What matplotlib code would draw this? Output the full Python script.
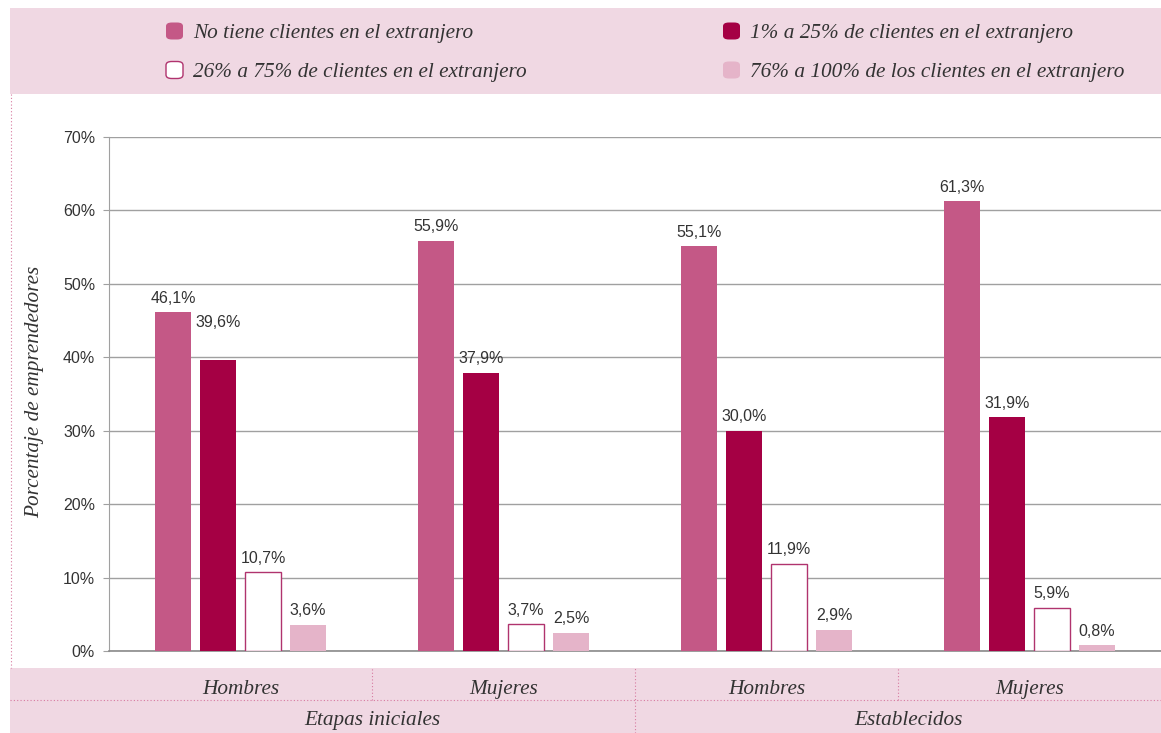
import matplotlib
matplotlib.use("Agg")
import matplotlib.pyplot as plt
from matplotlib.patches import Rectangle, FancyBboxPatch
from matplotlib.lines import Line2D
import matplotlib.transforms as mtransforms

# ---------------- data ----------------
groups = ["Hombres", "Mujeres", "Hombres", "Mujeres"]
stages = ["Etapas iniciales", "Establecidos"]
series_names = [
    "No tiene clientes en el extranjero",
    "1% a 25% de clientes en el extranjero",
    "26% a 75% de clientes en el extranjero",
    "76% a 100% de los clientes en el extranjero",
]
no_clientes = [46.1, 55.9, 55.1, 61.3]
de1_a25 = [39.6, 37.9, 30.0, 31.9]
de26_a75 = [10.7, 3.7, 11.9, 5.9]
de76_a100 = [3.6, 2.5, 2.9, 0.8]
y_ticks = [0, 10, 20, 30, 40, 50, 60, 70]
y_label = "Porcentaje de emprendedores"

# ---------------- style ----------------
W, H = 1161, 733
face = ["#c45886", "#a50044", "#ffffff", "#e5b4c9"]
edge = ["#c45886", "#a50044", "#b0336e", "#e5b4c9"]
band = "#f0d8e3"
dot = "#d77aa0"
txt = "#333333"
serif = ["Liberation Serif", "DejaVu Serif"]
sans = ["Liberation Sans", "DejaVu Sans"]
serif_size = 15.3

fig = plt.figure(figsize=(W / 100, H / 100), dpi=100)

def fx(px):
    return px / W

def fy(py):
    return 1 - py / H

ax = fig.add_axes([fx(109), fy(651), fx(1161) - fx(109), fy(137) - fy(651)])

values = [no_clientes, de1_a25, de26_a75, de76_a100]
n = len(groups)
x = list(range(n))
width = 0.138
pitch = 0.171
offsets = [(-1.5 + i) * pitch for i in range(4)]

# per-label extra lift (points) for the label that sits above its neighbour
extra_lift = {(1, 0): 17}

for si, vals in enumerate(values):
    xs = [xi + offsets[si] for xi in x]
    lw = 1.0 if si == 2 else 0
    ax.bar(xs, vals, width=width, color=face[si], edgecolor=edge[si],
           linewidth=lw, zorder=3)
    for gi, (xx, v) in enumerate(zip(xs, vals)):
        lift = 4.5 + extra_lift.get((si, gi), 0)
        ax.annotate(f"{v:.1f}%".replace(".", ","), (xx, v),
                    xytext=(0, lift), textcoords="offset points",
                    ha="center", va="bottom", fontsize=11.5, color=txt,
                    family=sans, zorder=4)

ax.set_xlim(-0.5, n - 0.5)
ax.set_ylim(0, 70)
ax.set_yticks(y_ticks)
ax.set_yticklabels([f"{t}%" for t in y_ticks], fontsize=11.5, color=txt,
                   family=sans)
ax.set_xticks([])
ax.yaxis.grid(True, color="#a0a0a0", linewidth=1.0, zorder=0)
ax.set_axisbelow(True)
for s in ["top", "right"]:
    ax.spines[s].set_visible(False)
ax.spines["left"].set_color("#a0a0a0")
ax.spines["bottom"].set_color("#8a8a8a")
ax.spines["bottom"].set_linewidth(1.2)
ax.tick_params(axis="y", length=4, color="#a0a0a0", pad=6)

fig.text(fx(35), fy(392), y_label, rotation=90, ha="center", va="center",
         fontsize=serif_size, style="italic", family=serif, color=txt)

# ---------------- legend band ----------------
fig.add_artist(Rectangle((fx(10), fy(94)), fx(1161) - fx(10), fy(8) - fy(94),
                         transform=fig.transFigure, facecolor=band,
                         edgecolor="none", zorder=0))
leg_pos = [(166, 31), (723, 31), (166, 70), (723, 70)]
for si, (px, py) in enumerate(leg_pos):
    sz = 17
    fig.add_artist(FancyBboxPatch((fx(px), fy(py + sz / 2)), fx(sz), fy(0) - fy(sz),
                                  boxstyle="round,pad=0,rounding_size=0.005",
                                  transform=fig.transFigure,
                                  facecolor=face[si], edgecolor=edge[si],
                                  linewidth=1.0 if si == 2 else 0))
    fig.text(fx(px + 27), fy(py + 7), series_names[si], ha="left", va="baseline",
             fontsize=serif_size, style="italic", family=serif, color=txt)

# left dotted frame line
fig.add_artist(Line2D([fx(11), fx(11)], [fy(94), fy(668)],
                      transform=fig.transFigure, color=dot, linewidth=0.8,
                      linestyle=(0, (1, 2))))

# ---------------- category band ----------------
fig.add_artist(Rectangle((fx(10), fy(733)), fx(1161) - fx(10), fy(668) - fy(733),
                         transform=fig.transFigure, facecolor=band,
                         edgecolor="none", zorder=0))
fig.add_artist(Line2D([fx(10), fx(1161)], [fy(700), fy(700)],
                      transform=fig.transFigure, color=dot, linewidth=0.8,
                      linestyle=(0, (1, 2))))

blend = mtransforms.blended_transform_factory(ax.transData, fig.transFigure)
for gi, g in enumerate(groups):
    fig.text(gi, fy(694), g, transform=blend, ha="center", va="baseline",
             fontsize=serif_size, style="italic", family=serif, color=txt)
# separators between groups
for b in [0.5, 1.5, 2.5]:
    top, bot = (fy(668), fy(700)) if b != 1.5 else (fy(668), fy(733))
    fig.add_artist(Line2D([b, b], [bot, top], transform=blend, color=dot,
                          linewidth=0.8, linestyle=(0, (1, 2))))
for si, st in enumerate(stages):
    xc = 0.5 + 2 * si + 0.04 * si
    fig.text(xc, fy(725), st, transform=blend, ha="center", va="baseline",
             fontsize=serif_size, style="italic", family=serif, color=txt)

fig.savefig("out.png", dpi=100)
